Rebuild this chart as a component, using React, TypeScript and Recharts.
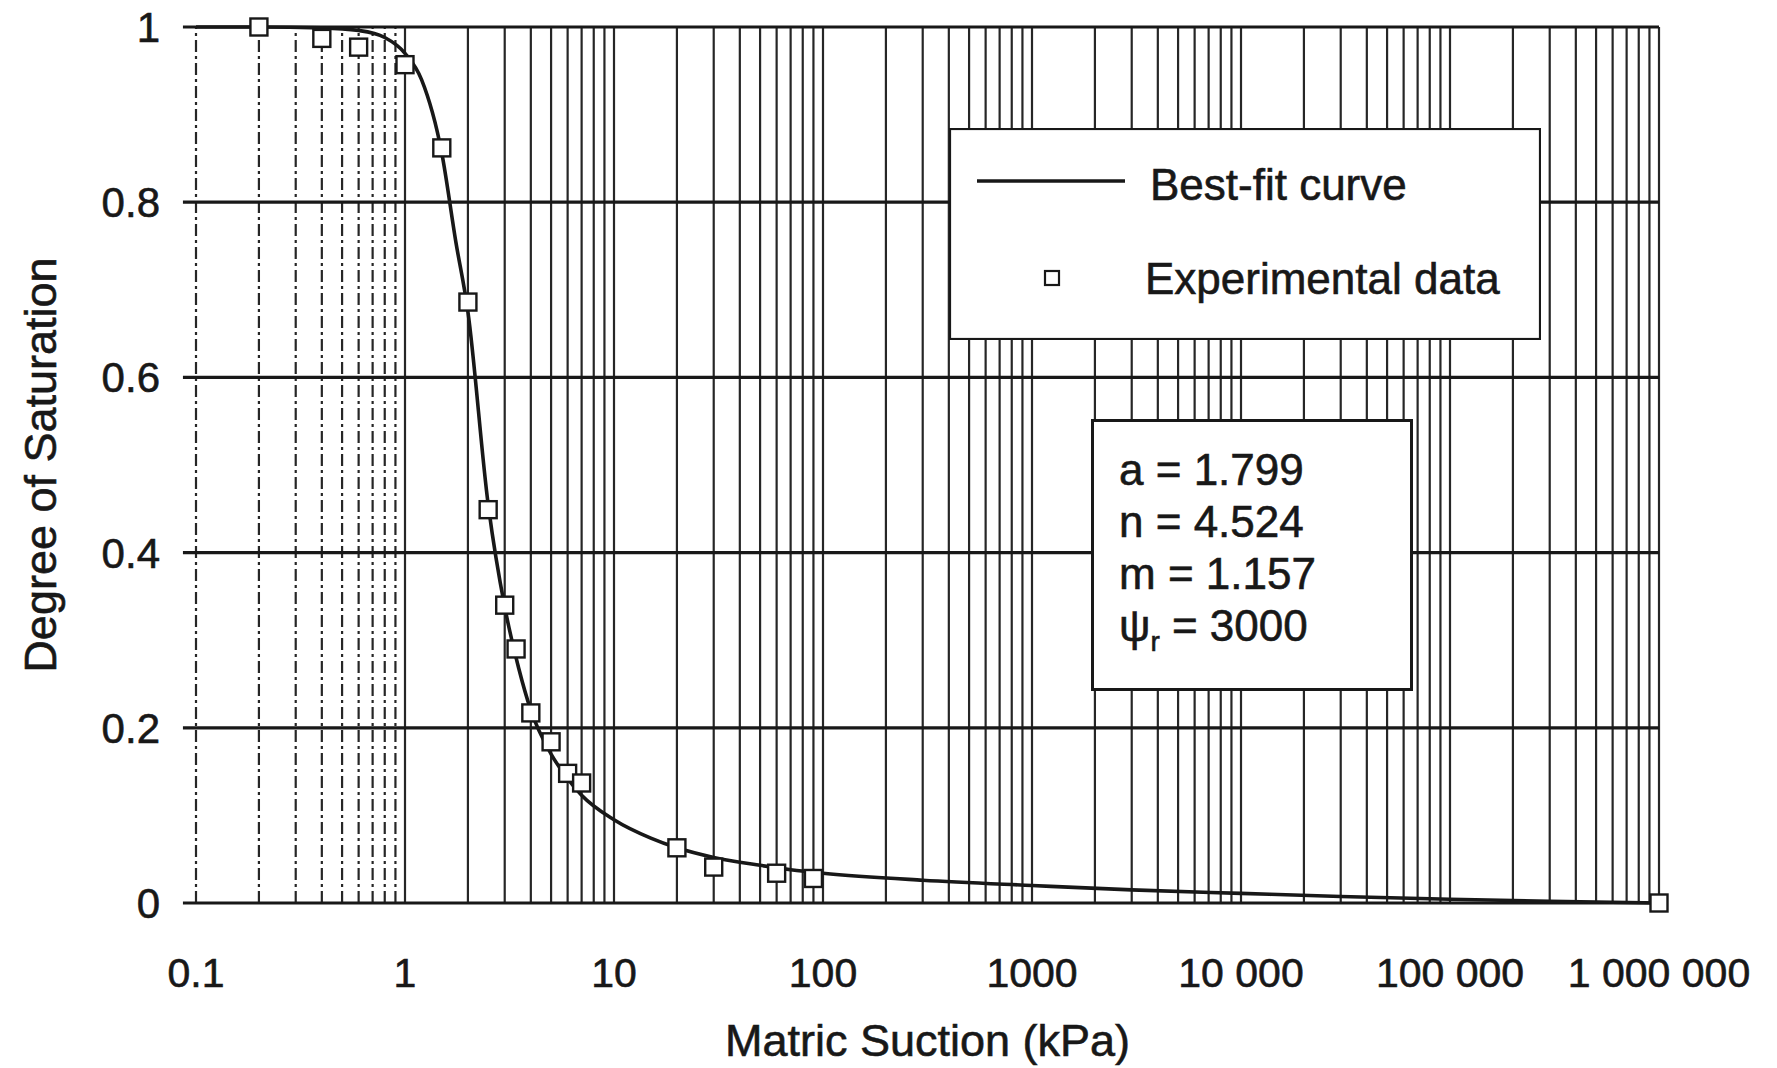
import { ComposedChart, Line, Scatter, XAxis, YAxis, ReferenceLine, Legend, Label } from 'recharts';

const W = 1777;
const H = 1068;
const FONT = '"Liberation Sans", Arial, Helvetica, sans-serif';
const INK = '#181818';

// axis ticks
const suctionTicks = [0.1, 1, 10, 100, 1000, 10000, 100000, 1000000];
const suctionTickLabels = ['0.1', '1', '10', '100', '1000', '10 000', '100 000', '1 000 000'];
const saturationTicks = [0, 0.2, 0.4, 0.6, 0.8, 1];
const gridMantissas = [1, 2, 3, 4, 5, 6, 7, 8, 9];

// experimental points (kPa, degree of saturation)
const expSuction = [0.2, 0.4, 0.6, 1, 1.5, 2, 2.5, 3, 3.4, 4, 5, 6, 7, 20, 30, 60, 90, 1000000];
const expSaturation = [1.0, 0.987, 0.977, 0.957, 0.862, 0.686, 0.449, 0.34, 0.29, 0.217, 0.184, 0.148, 0.137, 0.063, 0.041, 0.034, 0.028, 0.0];

// best-fit curve
const fitSuction = [0.1, 0.2, 0.4, 0.6, 0.8, 1, 1.2, 1.5, 1.75, 2, 2.5, 3, 3.5, 4, 5, 6, 7, 10, 15, 20, 30, 50, 70, 100, 300, 1000, 3000, 10000, 30000, 100000, 300000, 1000000];
const fitSaturation = [1.0, 1.0, 0.999, 0.996, 0.988, 0.97, 0.94, 0.856, 0.755, 0.675, 0.455, 0.338, 0.268, 0.22, 0.17, 0.142, 0.123, 0.095, 0.074, 0.063, 0.052, 0.043, 0.038, 0.034, 0.026, 0.02, 0.015, 0.011, 0.0075, 0.0043, 0.002, 0.0];

const paramNames = ['a', 'n', 'm', 'ψ'];
const paramSubs = ['', '', '', 'r'];
const paramValues = ['1.799', '4.524', '1.157', '3000'];

const expData = expSuction.map((s, i) => ({ suction: s, saturation: expSaturation[i] }));
const fitData = fitSuction.map((s, i) => ({ suction: s, saturation: fitSaturation[i] }));

const gridX: number[] = [];
suctionTicks.slice(0, -1).forEach((d) => gridMantissas.forEach((m) => gridX.push(d * m)));
gridX.push(1000000);

const textProps = { fill: INK, fontFamily: FONT, stroke: INK, strokeWidth: 0.6 };

const SquareDot = (props: any) => {
  const { cx, cy } = props;
  if (cx == null || cy == null) return null;
  return <rect x={cx - 8.5} y={cy - 8.5} width={17} height={17} fill="#fff" stroke={INK} strokeWidth={2.4} />;
};

const renderLegend = () => (
  <svg width={592} height={212} style={{ display: 'block' }}>
    <rect x={1} y={1} width={590} height={210} fill="#fff" stroke={INK} strokeWidth={2.2} />
    <line x1={28} x2={176} y1={53} y2={53} stroke={INK} strokeWidth={3.5} />
    <rect x={96} y={143} width={14} height={14} fill="#fff" stroke={INK} strokeWidth={2.2} />
    <text x={201} y={72} fontSize={44} {...textProps}>Best-fit curve</text>
    <text x={196} y={166} fontSize={44} {...textProps}>Experimental data</text>
  </svg>
);

export default function App() {
  return (
    <div style={{ position: 'absolute', left: 0, top: 0, width: W, height: H, background: '#fff', fontFamily: FONT }}>
      <ComposedChart width={W} height={H} margin={{ top: 27, right: 118, bottom: 0, left: 0 }}>
        <XAxis
          dataKey="suction"
          type="number"
          scale="log"
          domain={[0.1, 1000000]}
          ticks={suctionTicks}
          tickFormatter={(v: number) => suctionTickLabels[suctionTicks.indexOf(v)] ?? ''}
          height={165}
          axisLine={false}
          tickLine={false}
          tickSize={0}
          tickMargin={55}
          tick={{ ...textProps, fontSize: 41 }}
        >
          <Label value="Matric Suction (kPa)" position="insideBottom" offset={12} fontSize={45} {...textProps} />
        </XAxis>
        <YAxis
          dataKey="saturation"
          type="number"
          domain={[0, 1]}
          ticks={saturationTicks}
          width={196}
          axisLine={false}
          tickLine={false}
          tickSize={0}
          tickMargin={36}
          tick={{ ...textProps, fontSize: 42 }}
        >
          <Label value="Degree of Saturation" angle={-90} position="insideLeft" offset={40} fontSize={45} {...textProps} style={{ textAnchor: 'middle' }} />
        </YAxis>

        {gridX.map((v) => (
          <ReferenceLine
            key={`gx-${v}`}
            x={v}
            stroke="#262626"
            strokeWidth={2.2}
            strokeDasharray={v < 1 ? '12 4 3 4' : undefined}
            ifOverflow="visible"
          />
        ))}
        {saturationTicks.map((v) => (
          <ReferenceLine
            key={`gy-${v}`}
            segment={[{ x: 0.0866, y: v }, { x: 1000000, y: v }]}
            stroke={INK}
            strokeWidth={3.2}
            ifOverflow="visible"
          />
        ))}

        <Legend layout="vertical" align="center" verticalAlign="middle" content={renderLegend} wrapperStyle={{ position: 'absolute', left: 949, top: 128, width: 592, height: 212 }} />

        <Line data={fitData} dataKey="saturation" type="monotone" stroke={INK} strokeWidth={3.6} dot={false} activeDot={false} isAnimationActive={false} legendType="line" name="Best-fit curve" />
        <Scatter data={expData} dataKey="saturation" shape={SquareDot} isAnimationActive={false} name="Experimental data" />
      </ComposedChart>

      <svg width={322} height={272} style={{ position: 'absolute', left: 1091, top: 419 }}>
        <rect x={1.5} y={1.5} width={319} height={269} fill="#fff" stroke={INK} strokeWidth={3} />
        {paramNames.map((name, i) => (
          <text key={name} x={28} y={66 + i * 52} fontSize={44} {...textProps}>
            {name}
            {paramSubs[i] ? <tspan fontSize={28} dy={10}>{paramSubs[i]}</tspan> : null}
            <tspan dy={paramSubs[i] ? -10 : 0}>{` = ${paramValues[i]}`}</tspan>
          </text>
        ))}
      </svg>
    </div>
  );
}
